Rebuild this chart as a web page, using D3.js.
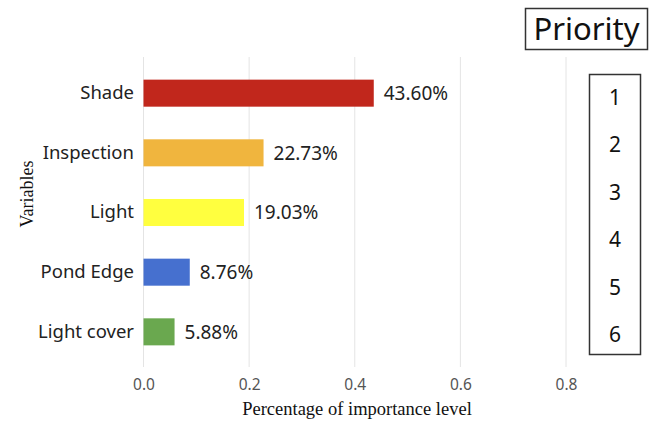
<!DOCTYPE html>
<html>
<head>
<meta charset="utf-8">
<script src="https://cdn.jsdelivr.net/npm/d3@7"></script>
<style>
  body { margin: 0; background: #fff; }
  svg { display: block; }
</style>
</head>
<body>
<script>
// data
var variables = ["Shade", "Inspection", "Light", "Pond Edge", "Light cover"];
var importance = [0.4360, 0.2273, 0.1903, 0.0876, 0.0588];
var barColors = ["#c1271c", "#f0b53e", "#ffff3f", "#4670cf", "#6aa84f"];
var xTicks = [0.0, 0.2, 0.4, 0.6, 0.8];
var priorities = [1, 2, 3, 4, 5, 6];

var width = 651, height = 430;
var sans = "'Noto Sans', 'Open Sans', sans-serif";
var serif = "'Liberation Serif', 'DejaVu Serif', serif";

var svg = d3.select("body").append("svg")
  .attr("width", width)
  .attr("height", height);

var x = d3.scaleLinear().domain([0, 0.8]).range([143.5, 566]);
var y = d3.scaleBand().domain(variables).range([47, 378])
  .paddingInner(0.547).paddingOuter(0.547);

var rows = variables.map(function(v, i) {
  return { name: v, value: importance[i], color: barColors[i] };
});

// vertical grid lines
svg.append("g").selectAll("line")
  .data(xTicks)
  .enter().append("line")
  .attr("x1", function(d) { return x(d); })
  .attr("x2", function(d) { return x(d); })
  .attr("y1", 57)
  .attr("y2", 367)
  .attr("stroke", "#e4e4e4")
  .attr("stroke-width", 1);

// x axis labels (no domain line)
var xAxis = svg.append("g")
  .attr("transform", "translate(0,376)")
  .call(d3.axisBottom(x).tickValues(xTicks).tickFormat(d3.format(".1f")).tickSize(0));
xAxis.select(".domain").remove();
xAxis.selectAll("text")
  .attr("font-family", sans)
  .attr("font-size", 15.5)
  .attr("fill", "#555");

// bars
svg.append("g").selectAll("rect")
  .data(rows)
  .enter().append("rect")
  .attr("x", x(0))
  .attr("y", function(d) { return y(d.name); })
  .attr("width", function(d) { return x(d.value) - x(0); })
  .attr("height", y.bandwidth())
  .attr("fill", function(d) { return d.color; });

// value labels
svg.append("g").selectAll("text")
  .data(rows)
  .enter().append("text")
  .attr("x", function(d) { return x(d.value) + 10; })
  .attr("y", function(d) { return y(d.name) + y.bandwidth() / 2; })
  .attr("dy", "0.36em")
  .attr("font-family", sans)
  .attr("font-size", 19)
  .attr("fill", "#222")
  .text(function(d) { return (d.value * 100).toFixed(2) + "%"; });

// category labels
var yAxis = svg.append("g")
  .attr("transform", "translate(134,0)")
  .call(d3.axisLeft(y).tickSize(0).tickPadding(0));
yAxis.select(".domain").remove();
yAxis.selectAll("text")
  .attr("font-family", sans)
  .attr("font-size", 18.5)
  .attr("fill", "#222");

// axis titles
svg.append("text")
  .attr("x", 357)
  .attr("y", 415)
  .attr("text-anchor", "middle")
  .attr("font-family", serif)
  .attr("font-size", 18.5)
  .attr("fill", "#111")
  .text("Percentage of importance level");

svg.append("text")
  .attr("transform", "translate(33,194) rotate(-90)")
  .attr("text-anchor", "middle")
  .attr("font-family", serif)
  .attr("font-size", 18)
  .attr("fill", "#111")
  .text("Variables");

// priority header box
svg.append("rect")
  .attr("x", 525.5).attr("y", 8.5)
  .attr("width", 122).attr("height", 41)
  .attr("fill", "none")
  .attr("stroke", "#333")
  .attr("stroke-width", 1.5);
svg.append("text")
  .attr("x", 586.5)
  .attr("y", 40)
  .attr("text-anchor", "middle")
  .attr("font-family", sans)
  .attr("font-size", 31)
  .attr("fill", "#111")
  .text("Priority");

// priority number box
var py = d3.scalePoint().domain(priorities).range([105, 342]);
svg.append("rect")
  .attr("x", 589.5).attr("y", 74.5)
  .attr("width", 51).attr("height", 280)
  .attr("fill", "none")
  .attr("stroke", "#333")
  .attr("stroke-width", 1.5);
svg.append("g").selectAll("text")
  .data(priorities)
  .enter().append("text")
  .attr("x", 615)
  .attr("y", function(d) { return py(d); })
  .attr("text-anchor", "middle")
  .attr("font-family", sans)
  .attr("font-size", 21)
  .attr("fill", "#111")
  .text(function(d) { return d; });
</script>
</body>
</html>
